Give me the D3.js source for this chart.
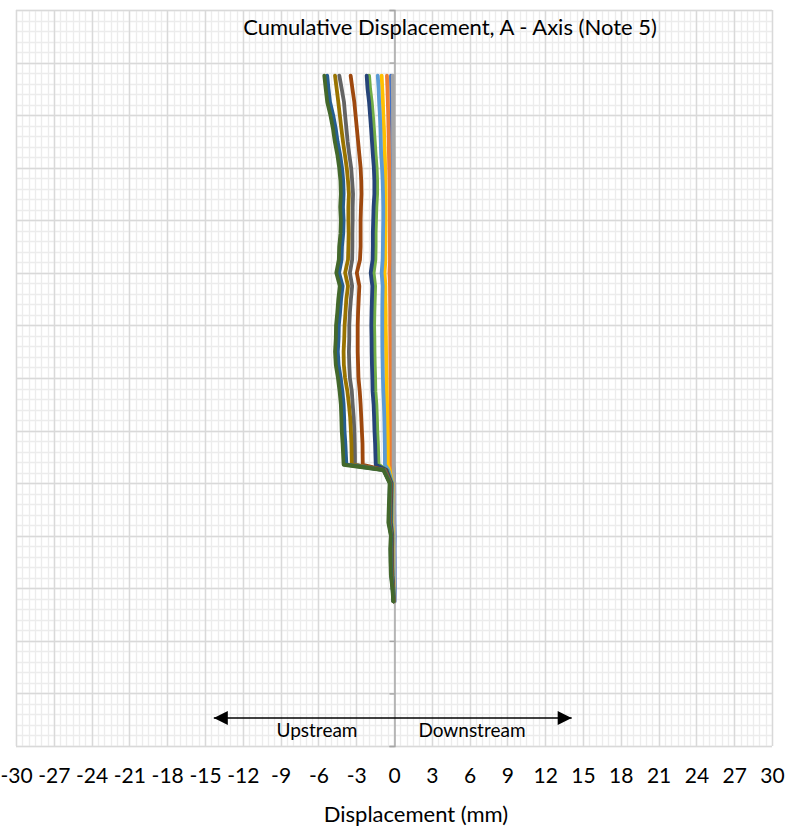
<!DOCTYPE html>
<html>
<head>
<meta charset="utf-8">
<script src="https://cdn.jsdelivr.net/npm/d3@7"></script>
<style>
  html, body { margin: 0; padding: 0; background: #fff; }
  svg { display: block; }
  text { font-family: Lato, "Open Sans", sans-serif; fill: #000; }
</style>
</head>
<body>
<svg id="chart" width="798" height="828"></svg>
<script>
// ---------- data ----------
const title = "Cumulative Displacement, A - Axis (Note 5)";
const xTitle = "Displacement (mm)";
const xTickValues = [-30,-27,-24,-21,-18,-15,-12,-9,-6,-3,0,3,6,9,12,15,18,21,24,27,30];
const depth = [1.25,1.5,1.75,2,2.25,2.5,2.75,3,3.25,3.5,3.75,4,4.25,4.5,4.75,5,5.25,5.5,5.75,6,6.25,6.5,6.75,7,7.25,7.5,7.75,8,8.25,8.5,8.65,8.75,9,9.25,9.5,9.75,10,10.25,10.5,10.75,11,11.25];

const s1 = [-0.24,-0.22,-0.2,-0.18,-0.16,-0.15,-0.14,-0.13,-0.12,-0.11,-0.11,-0.1,-0.1,-0.1,-0.1,-0.12,-0.1,-0.1,-0.1,-0.1,-0.09,-0.09,-0.09,-0.09,-0.08,-0.08,-0.08,-0.08,-0.07,-0.07,-0.07,-0.04,0.02,0.03,0.03,0.04,0.06,0.05,0.06,0.06,0.07,0.05];
const s2 = [-0.56,-0.52,-0.49,-0.46,-0.44,-0.42,-0.4,-0.38,-0.36,-0.34,-0.33,-0.33,-0.33,-0.33,-0.32,-0.36,-0.32,-0.31,-0.3,-0.3,-0.29,-0.29,-0.28,-0.28,-0.27,-0.26,-0.25,-0.24,-0.24,-0.24,-0.24,-0.2,-0.08,-0.09,-0.1,-0.1,-0.05,-0.06,-0.05,-0.04,-0.02,0];
const s3 = [-0.1,-0.09,-0.08,-0.08,-0.07,-0.07,-0.06,-0.06,-0.06,-0.05,-0.05,-0.05,-0.05,-0.05,-0.05,-0.06,-0.05,-0.05,-0.05,-0.05,-0.04,-0.04,-0.04,-0.04,-0.04,-0.04,-0.03,-0.03,-0.03,-0.03,-0.03,-0.02,0.01,0.01,0,0,0.02,0.02,0.02,0.02,0.03,0.03];
const s4 = [-0.98,-0.93,-0.88,-0.85,-0.8,-0.77,-0.73,-0.7,-0.68,-0.66,-0.66,-0.66,-0.67,-0.68,-0.68,-0.75,-0.68,-0.68,-0.66,-0.66,-0.64,-0.63,-0.62,-0.6,-0.58,-0.55,-0.53,-0.52,-0.5,-0.5,-0.5,-0.35,-0.12,-0.13,-0.14,-0.15,-0.08,-0.09,-0.08,-0.07,-0.03,-0.01];
const s5 = [-1.29,-1.22,-1.18,-1.12,-1.08,-1.05,-1.02,-0.95,-0.9,-0.87,-0.85,-0.85,-0.87,-0.88,-0.9,-0.98,-0.9,-0.92,-0.93,-0.93,-0.93,-0.92,-0.9,-0.88,-0.85,-0.8,-0.77,-0.75,-0.73,-0.72,-0.72,-0.45,-0.15,-0.17,-0.18,-0.2,-0.1,-0.12,-0.11,-0.09,-0.04,-0.01];
const s6 = [-1.98,-1.9,-1.77,-1.68,-1.6,-1.53,-1.46,-1.38,-1.34,-1.34,-1.4,-1.43,-1.46,-1.46,-1.48,-1.62,-1.5,-1.53,-1.56,-1.58,-1.56,-1.55,-1.53,-1.5,-1.48,-1.4,-1.36,-1.33,-1.28,-1.25,-1.23,-0.55,-0.18,-0.2,-0.22,-0.23,-0.13,-0.15,-0.14,-0.12,-0.05,-0.02];
const s7 = [-2.17,-2.1,-1.98,-1.9,-1.82,-1.75,-1.68,-1.6,-1.56,-1.56,-1.62,-1.65,-1.68,-1.68,-1.7,-1.85,-1.72,-1.75,-1.78,-1.8,-1.78,-1.77,-1.75,-1.72,-1.7,-1.62,-1.58,-1.55,-1.5,-1.47,-1.45,-0.6,-0.2,-0.22,-0.25,-0.26,-0.15,-0.17,-0.16,-0.13,-0.06,-0.02];
const s8 = [-3.44,-3.3,-3.15,-3.05,-2.95,-2.85,-2.75,-2.65,-2.6,-2.58,-2.62,-2.65,-2.65,-2.65,-2.7,-2.95,-2.75,-2.8,-2.85,-2.88,-2.88,-2.88,-2.85,-2.82,-2.72,-2.65,-2.6,-2.55,-2.5,-2.49,-2.48,-0.7,-0.25,-0.27,-0.3,-0.32,-0.18,-0.2,-0.19,-0.16,-0.08,-0.03];
const s9 = [-4.34,-4.15,-3.97,-3.88,-3.78,-3.68,-3.55,-3.4,-3.32,-3.25,-3.28,-3.28,-3.3,-3.3,-3.32,-3.5,-3.32,-3.42,-3.5,-3.55,-3.55,-3.58,-3.55,-3.5,-3.35,-3.28,-3.2,-3.15,-3.12,-3.1,-3.1,-0.75,-0.28,-0.3,-0.33,-0.35,-0.2,-0.23,-0.21,-0.18,-0.09,-0.04];
const s10 = [-4.68,-4.55,-4.42,-4.3,-4.18,-4.05,-3.9,-3.75,-3.65,-3.58,-3.62,-3.62,-3.6,-3.62,-3.65,-3.88,-3.65,-3.78,-3.85,-3.92,-3.95,-4.0,-3.98,-3.88,-3.7,-3.58,-3.48,-3.42,-3.38,-3.36,-3.35,-0.8,-0.3,-0.33,-0.36,-0.38,-0.22,-0.25,-0.23,-0.2,-0.1,-0.04];
const s11 = [-5.3,-5.2,-5.08,-4.83,-4.63,-4.48,-4.28,-4.13,-4.03,-4.0,-4.05,-4.0,-4.03,-4.13,-4.16,-4.36,-4.08,-4.2,-4.28,-4.38,-4.4,-4.46,-4.4,-4.23,-4.1,-4.0,-3.96,-3.93,-3.86,-3.81,-3.78,-0.83,-0.32,-0.35,-0.38,-0.4,-0.22,-0.26,-0.25,-0.22,-0.11,-0.05];
const s12 = [-5.53,-5.42,-5.3,-5.05,-4.85,-4.7,-4.5,-4.35,-4.25,-4.22,-4.27,-4.22,-4.25,-4.35,-4.38,-4.58,-4.3,-4.42,-4.5,-4.6,-4.62,-4.68,-4.62,-4.45,-4.32,-4.22,-4.18,-4.15,-4.08,-4.03,-4.0,-0.85,-0.35,-0.38,-0.42,-0.45,-0.25,-0.3,-0.28,-0.25,-0.13,-0.06];

const seriesValues = [s1,s2,s3,s4,s5,s6,s7,s8,s9,s10,s11,s12];
const seriesColors = ["#4472C4","#ED7D31","#A5A5A5","#FFC000","#5B9BD5","#70AD47","#264478","#9E480E","#636363","#997300","#255E91","#43682B"];

// ---------- layout ----------
const svg = d3.select("#chart");
const L = 16, R = 772, T = 10, B = 746;
const x = d3.scaleLinear().domain([-30, 30]).range([L, R]);
const y = d3.scaleLinear().domain([0, 14]).range([T, B]);

svg.append("rect").attr("width", 798).attr("height", 828).attr("fill", "#fff");

const grid = svg.append("g");
// minor grid
grid.selectAll(".mvx").data(d3.range(-30, 30.001, 0.5)).join("line")
  .attr("x1", d => Math.round(x(d)) + 0.5).attr("x2", d => Math.round(x(d)) + 0.5)
  .attr("y1", T).attr("y2", B).attr("stroke", "#ececec").attr("stroke-width", 1.3);
grid.selectAll(".mhy").data(d3.range(0, 14.001, 0.2)).join("line")
  .attr("y1", d => Math.round(y(d)) + 0.5).attr("y2", d => Math.round(y(d)) + 0.5)
  .attr("x1", L).attr("x2", R).attr("stroke", "#ececec").attr("stroke-width", 1.3);
// major grid
grid.selectAll(".Mvx").data(xTickValues).join("line")
  .attr("x1", d => Math.round(x(d)) + 0.5).attr("x2", d => Math.round(x(d)) + 0.5)
  .attr("y1", T).attr("y2", B).attr("stroke", "#d9d9d9").attr("stroke-width", 1.4);
grid.selectAll(".Mhy").data(d3.range(0, 15, 1)).join("line")
  .attr("y1", d => Math.round(y(d)) + 0.5).attr("y2", d => Math.round(y(d)) + 0.5)
  .attr("x1", L).attr("x2", R).attr("stroke", "#d9d9d9").attr("stroke-width", 1.4);

// vertical (zero) axis with outside ticks
const yAxis = d3.axisLeft(y).ticks(14).tickSize(5).tickFormat("");
const yAxisG = svg.append("g").attr("transform", `translate(${Math.round(x(0)) + 0.5},0)`).call(yAxis);
yAxisG.select(".domain").attr("stroke", "#a6a6a6").attr("stroke-width", 1.4);
yAxisG.selectAll(".tick line").attr("stroke", "#a6a6a6").attr("stroke-width", 1.4);

// x tick labels
const xAxis = d3.axisBottom(x).tickValues(xTickValues).tickSize(0).tickPadding(0).tickFormat(d3.format("d"));
const xAxisG = svg.append("g").attr("transform", `translate(0,${B})`).call(xAxis);
xAxisG.select(".domain").remove();
xAxisG.selectAll("text").attr("y", 37).attr("dy", 0)
  .style("font-family", "Lato, sans-serif").style("font-size", "21px").attr("fill", "#000");
xAxisG.selectAll("text").text(d => d < 0 ? "-" + Math.abs(d) : String(d));

// series lines
const line = d3.line().x(d => x(d[0])).y(d => y(d[1]));
const linesG = svg.append("g");
seriesValues.forEach((vals, i) => {
  const pts = vals.map((v, k) => [v, depth[k]]);
  linesG.append("path").datum(pts)
    .attr("d", line).attr("fill", "none")
    .attr("stroke", seriesColors[i]).attr("stroke-width", 3.8)
    .attr("stroke-linejoin", "round").attr("stroke-linecap", "round");
});

// title
svg.append("text").attr("x", 450).attr("y", 35).attr("text-anchor", "middle")
  .style("font-size", "22px").text(title);

// x axis title
svg.append("text").attr("x", 416).attr("y", 822).attr("text-anchor", "middle")
  .style("font-size", "22px").text(xTitle);

// arrows
const defs = svg.append("defs");
defs.append("marker").attr("id", "arrow").attr("viewBox", "0 0 10 10")
  .attr("refX", 10).attr("refY", 5).attr("markerWidth", 17).attr("markerHeight", 14)
  .attr("markerUnits", "userSpaceOnUse").attr("orient", "auto")
  .append("path").attr("d", "M0,0 L10,5 L0,10 Z").attr("fill", "#000");
const arrowY = 718;
svg.append("line").attr("x1", x(0)).attr("x2", x(-14.3)).attr("y1", arrowY).attr("y2", arrowY)
  .attr("stroke", "#000").attr("stroke-width", 1.3).attr("marker-end", "url(#arrow)");
svg.append("line").attr("x1", x(0)).attr("x2", x(14.1)).attr("y1", arrowY).attr("y2", arrowY)
  .attr("stroke", "#000").attr("stroke-width", 1.3).attr("marker-end", "url(#arrow)");
svg.append("text").attr("x", 317).attr("y", 737).attr("text-anchor", "middle")
  .style("font-size", "19px").text("Upstream");
svg.append("text").attr("x", 472).attr("y", 737).attr("text-anchor", "middle")
  .style("font-size", "19px").text("Downstream");
</script>
</body>
</html>
